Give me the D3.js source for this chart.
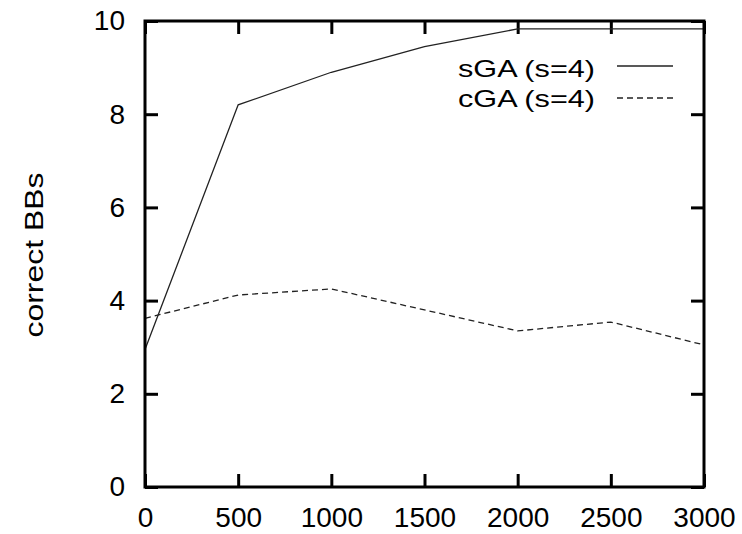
<!DOCTYPE html>
<meta charset="utf-8">
<script src="https://d3js.org/d3.v7.min.js"></script>
<body style="margin:0;background:#fff">
<div id="chart"></div>
<script>
// data
var xs = [0, 500, 1000, 1500, 2000, 2500, 3000];
var sga = [2.95, 8.2, 8.9, 9.45, 9.83, 9.83, 9.83];
var cga = [3.62, 4.12, 4.25, 3.8, 3.35, 3.54, 3.05];
var xTicks = [0, 500, 1000, 1500, 2000, 2500, 3000];
var yTicks = [0, 2, 4, 6, 8, 10];
var seriesNames = ["sGA (s=4)", "cGA (s=4)"];

var margin = {top: 21, right: 38, bottom: 47, left: 145},
    width = 742 - margin.left - margin.right,
    height = 534 - margin.top - margin.bottom;

var svg = d3.select("#chart")
  .append("svg")
    .attr("width", 742)
    .attr("height", 534)
    .style("font-family", "'Liberation Sans', Arial, sans-serif");

var g = svg.append("g")
    .attr("transform", "translate(" + margin.left + "," + margin.top + ")");

var x = d3.scaleLinear().domain([0, 3000]).range([0, width]);
var y = d3.scaleLinear().domain([0, 10]).range([height, 0]);

// axes with inward ticks, mirrored on all sides
function styleAxis(sel) {
  sel.select(".domain").remove();
  sel.selectAll(".tick line").attr("stroke", "#000").attr("stroke-width", 3);
  sel.selectAll("text").style("font-size", "28px").attr("fill", "#000");
}

g.append("g")
  .attr("transform", "translate(0," + height + ")")
  .call(d3.axisBottom(x).tickValues(xTicks).tickSizeInner(-13).tickSizeOuter(0).tickPadding(20).tickFormat(d3.format("d")))
  .call(styleAxis);

g.append("g")
  .call(d3.axisLeft(y).tickValues(yTicks).tickSizeInner(-13).tickSizeOuter(0).tickPadding(20))
  .call(styleAxis);

g.append("g")
  .call(d3.axisTop(x).tickValues(xTicks).tickSizeInner(-13).tickSizeOuter(0).tickFormat(""))
  .call(styleAxis);

g.append("g")
  .attr("transform", "translate(" + width + ",0)")
  .call(d3.axisRight(y).tickValues(yTicks).tickSizeInner(-13).tickSizeOuter(0).tickFormat(""))
  .call(styleAxis);

// data lines
var line = d3.line()
  .x(function(d, i) { return x(xs[i]); })
  .y(function(d) { return y(d); });

g.append("path")
  .datum(sga)
  .attr("d", line)
  .attr("fill", "none")
  .attr("stroke", "#222")
  .attr("stroke-width", 1.3);

g.append("path")
  .datum(cga)
  .attr("d", line)
  .attr("fill", "none")
  .attr("stroke", "#222")
  .attr("stroke-width", 1.3)
  .attr("stroke-dasharray", "6,4");

// frame
g.append("rect")
  .attr("width", width)
  .attr("height", height)
  .attr("fill", "none")
  .attr("stroke", "#000")
  .attr("stroke-width", 3);

// legend (text is a bit wide in the original, so stretch it)
var dashes = [null, "6,4"];
seriesNames.forEach(function(name, i) {
  g.append("text")
    .attr("x", 313)
    .attr("y", 56 + i * 30)
    .attr("textLength", 137)
    .attr("lengthAdjust", "spacingAndGlyphs")
    .style("font-size", "24px")
    .text(name);
  var ly = 45 + i * 32;
  g.append("line")
    .attr("x1", 472).attr("x2", 528)
    .attr("y1", ly).attr("y2", ly)
    .attr("stroke", "#222")
    .attr("stroke-width", 1.3)
    .attr("stroke-dasharray", dashes[i]);
});

// y title
svg.append("text")
  .attr("transform", "translate(43," + (margin.top + height / 2 + 1) + ") rotate(-90)")
  .attr("text-anchor", "middle")
  .attr("textLength", 165)
  .attr("lengthAdjust", "spacingAndGlyphs")
  .style("font-size", "25px")
  .text("correct BBs");
</script>
</body>
